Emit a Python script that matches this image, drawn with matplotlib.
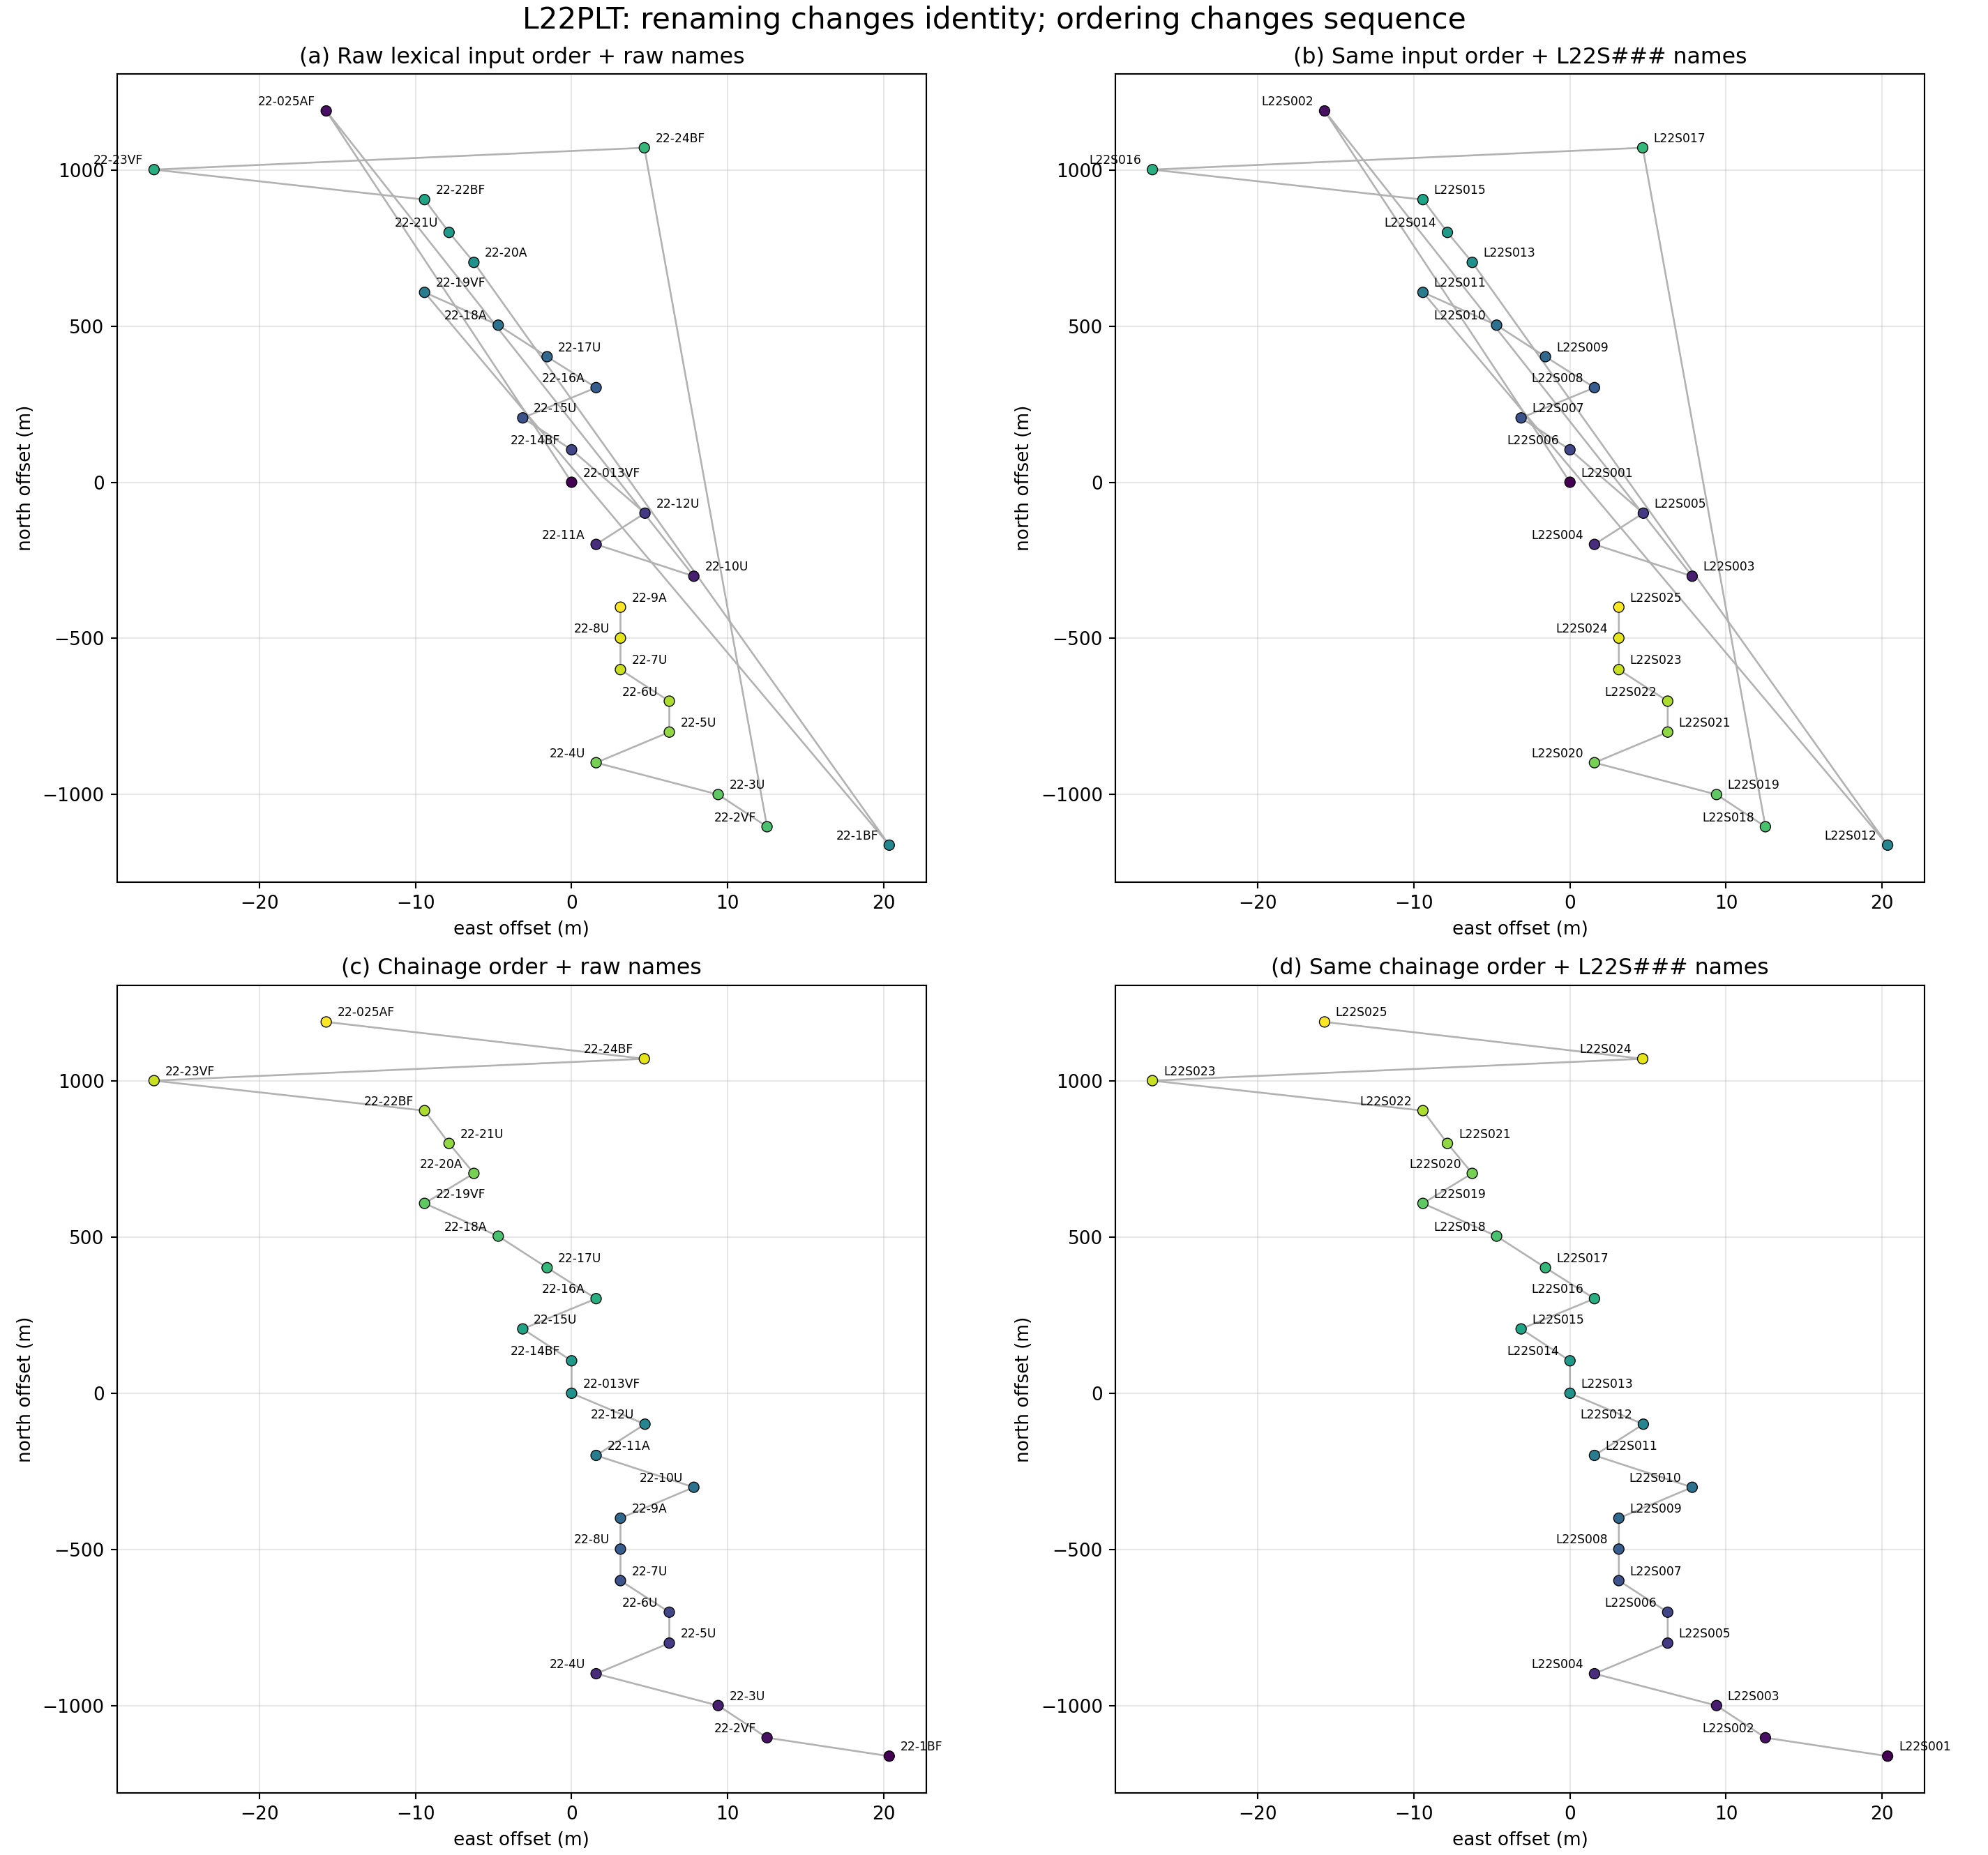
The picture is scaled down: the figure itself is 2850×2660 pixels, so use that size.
import numpy as np
import matplotlib
matplotlib.use("Agg")
import matplotlib.pyplot as plt

# station data in chainage order (south -> north)
raw_names = ["22-1BF", "22-2VF", "22-3U", "22-4U", "22-5U", "22-6U", "22-7U",
             "22-8U", "22-9A", "22-10U", "22-11A", "22-12U", "22-013VF",
             "22-14BF", "22-15U", "22-16A", "22-17U", "22-18A", "22-19VF",
             "22-20A", "22-21U", "22-22BF", "22-23VF", "22-24BF", "22-025AF"]
east_m = [20.35, 12.52, 9.39, 1.57, 6.26, 6.26, 3.13, 3.13, 3.13, 7.83, 1.57,
          4.70, 0.0, 0.0, -3.13, 1.57, -1.57, -4.70, -9.42, -6.26, -7.85,
          -9.42, -26.75, 4.66, -15.72]
north_m = [-1162, -1103, -1000, -898, -800, -701, -600, -499, -400, -301, -199,
           -99, 0, 104, 206, 303, 402, 503, 608, 704, 800, 905, 1001, 1071, 1189]

# index orders
chainage_order = list(range(len(raw_names)))
lexical_order = sorted(chainage_order, key=lambda i: raw_names[i])


def draw_panel(ax, order, labels, title):
    x = np.array([east_m[i] for i in order])
    y = np.array([north_m[i] for i in order])
    n = len(order)
    ax.plot(x, y, color="gray", alpha=0.6, linewidth=1.0, zorder=1)
    ax.scatter(x, y, c=np.arange(n), cmap="viridis", vmin=0, vmax=n - 1,
               s=32, edgecolors="black", linewidths=0.5, zorder=2)
    for k in range(n):
        # alternate label side so neighbours don't collide
        if k % 2 == 0:
            ax.annotate(labels[k], (x[k], y[k]), xytext=(6, 3),
                        textcoords="offset points", ha="left", fontsize=6.5)
        else:
            ax.annotate(labels[k], (x[k], y[k]), xytext=(-6, 3),
                        textcoords="offset points", ha="right", fontsize=6.5)
    ax.set_title(title, fontsize=12)
    ax.set_xlabel("east offset (m)")
    ax.set_ylabel("north offset (m)")
    ax.grid(True, alpha=0.3)


fig, axes = plt.subplots(2, 2, figsize=(15, 14), dpi=190)

lex_raw = [raw_names[i] for i in lexical_order]
lex_new = ["L22S%03d" % (k + 1) for k in range(len(lexical_order))]
ch_raw = [raw_names[i] for i in chainage_order]
ch_new = ["L22S%03d" % (k + 1) for k in range(len(chainage_order))]

draw_panel(axes[0, 0], lexical_order, lex_raw, "(a) Raw lexical input order + raw names")
draw_panel(axes[0, 1], lexical_order, lex_new, "(b) Same input order + L22S### names")
draw_panel(axes[1, 0], chainage_order, ch_raw, "(c) Chainage order + raw names")
draw_panel(axes[1, 1], chainage_order, ch_new, "(d) Same chainage order + L22S### names")

fig.suptitle("L22PLT: renaming changes identity; ordering changes sequence",
             fontsize=16, y=0.997)
fig.subplots_adjust(left=0.059, right=0.968, bottom=0.0335, top=0.960,
                    wspace=0.2345, hspace=0.128)
fig.savefig("out.png", dpi=190)
